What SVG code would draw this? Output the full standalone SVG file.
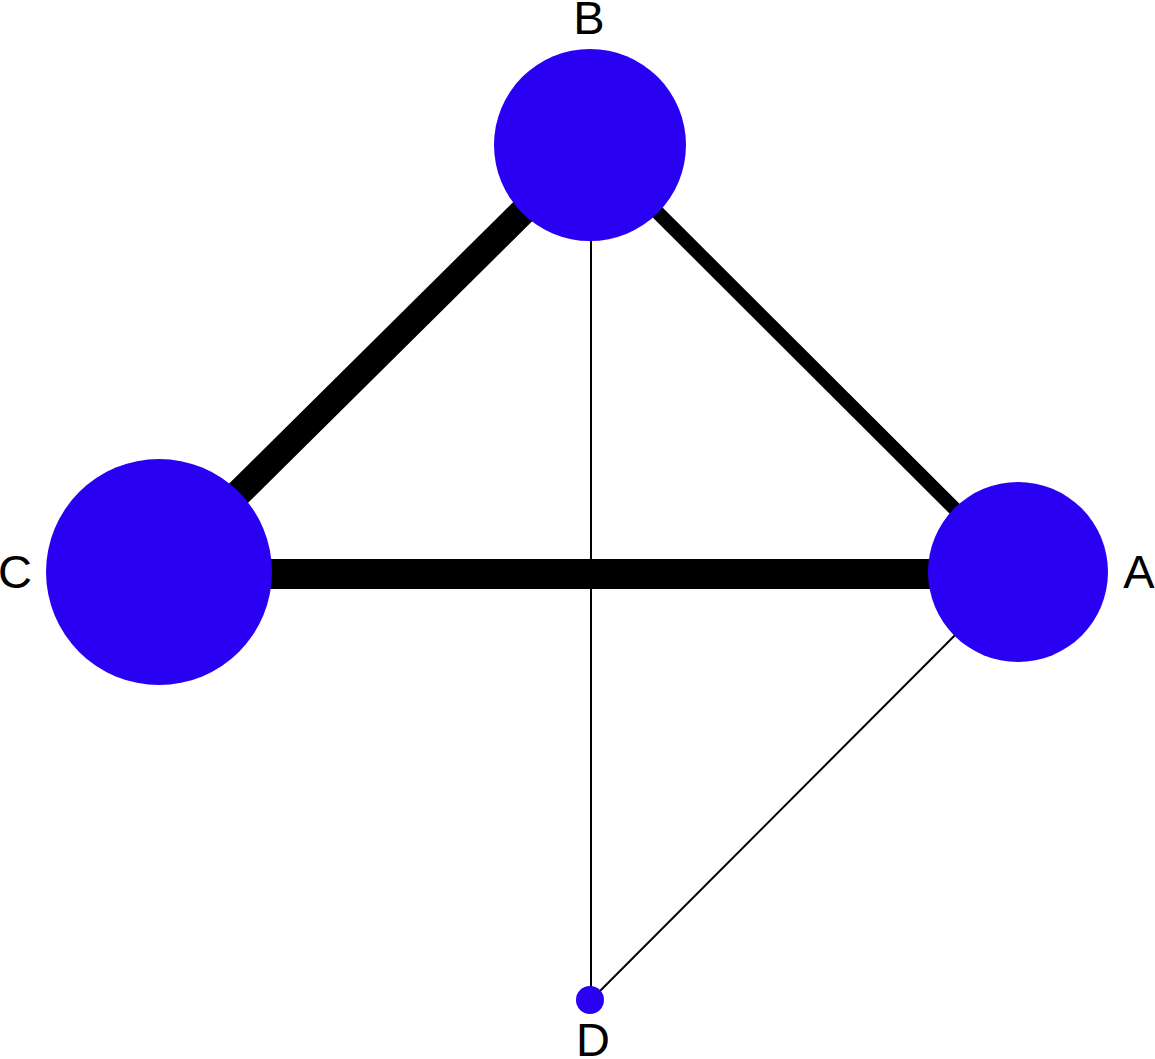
<svg xmlns="http://www.w3.org/2000/svg" width="1155" height="1059" viewBox="0 0 1155 1059">
<style>
.node{fill:#2a00f2}
.lbl{font-family:"Liberation Sans",Arial,sans-serif;font-size:47px;fill:#000;text-anchor:middle}
.e{stroke:#000;fill:none}
</style>
<rect width="1155" height="1059" fill="#fff"/>
<g id="edges">
<line class="e" x1="590" y1="145" x2="159" y2="572" stroke-width="27"/>
<line class="e" x1="590" y1="145" x2="1018" y2="572" stroke-width="14"/>
<line class="e" x1="159" y1="574" x2="1018" y2="574" stroke-width="30"/>
<line class="e" x1="591" y1="145" x2="591" y2="1000" stroke-width="2"/>
<line class="e" x1="1018" y1="572" x2="591" y2="1000" stroke-width="2"/>
</g>
<g id="node-B"><circle class="node" cx="590" cy="145" r="96"/><text class="lbl" x="589" y="34">B</text></g>
<g id="node-C"><circle class="node" cx="159" cy="572" r="113"/><text class="lbl" x="15" y="588">C</text></g>
<g id="node-A"><circle class="node" cx="1018" cy="572" r="90"/><text class="lbl" x="1139" y="588">A</text></g>
<g id="node-D"><circle class="node" cx="590" cy="1000" r="14"/><text class="lbl" x="593" y="1056">D</text></g>
</svg>
